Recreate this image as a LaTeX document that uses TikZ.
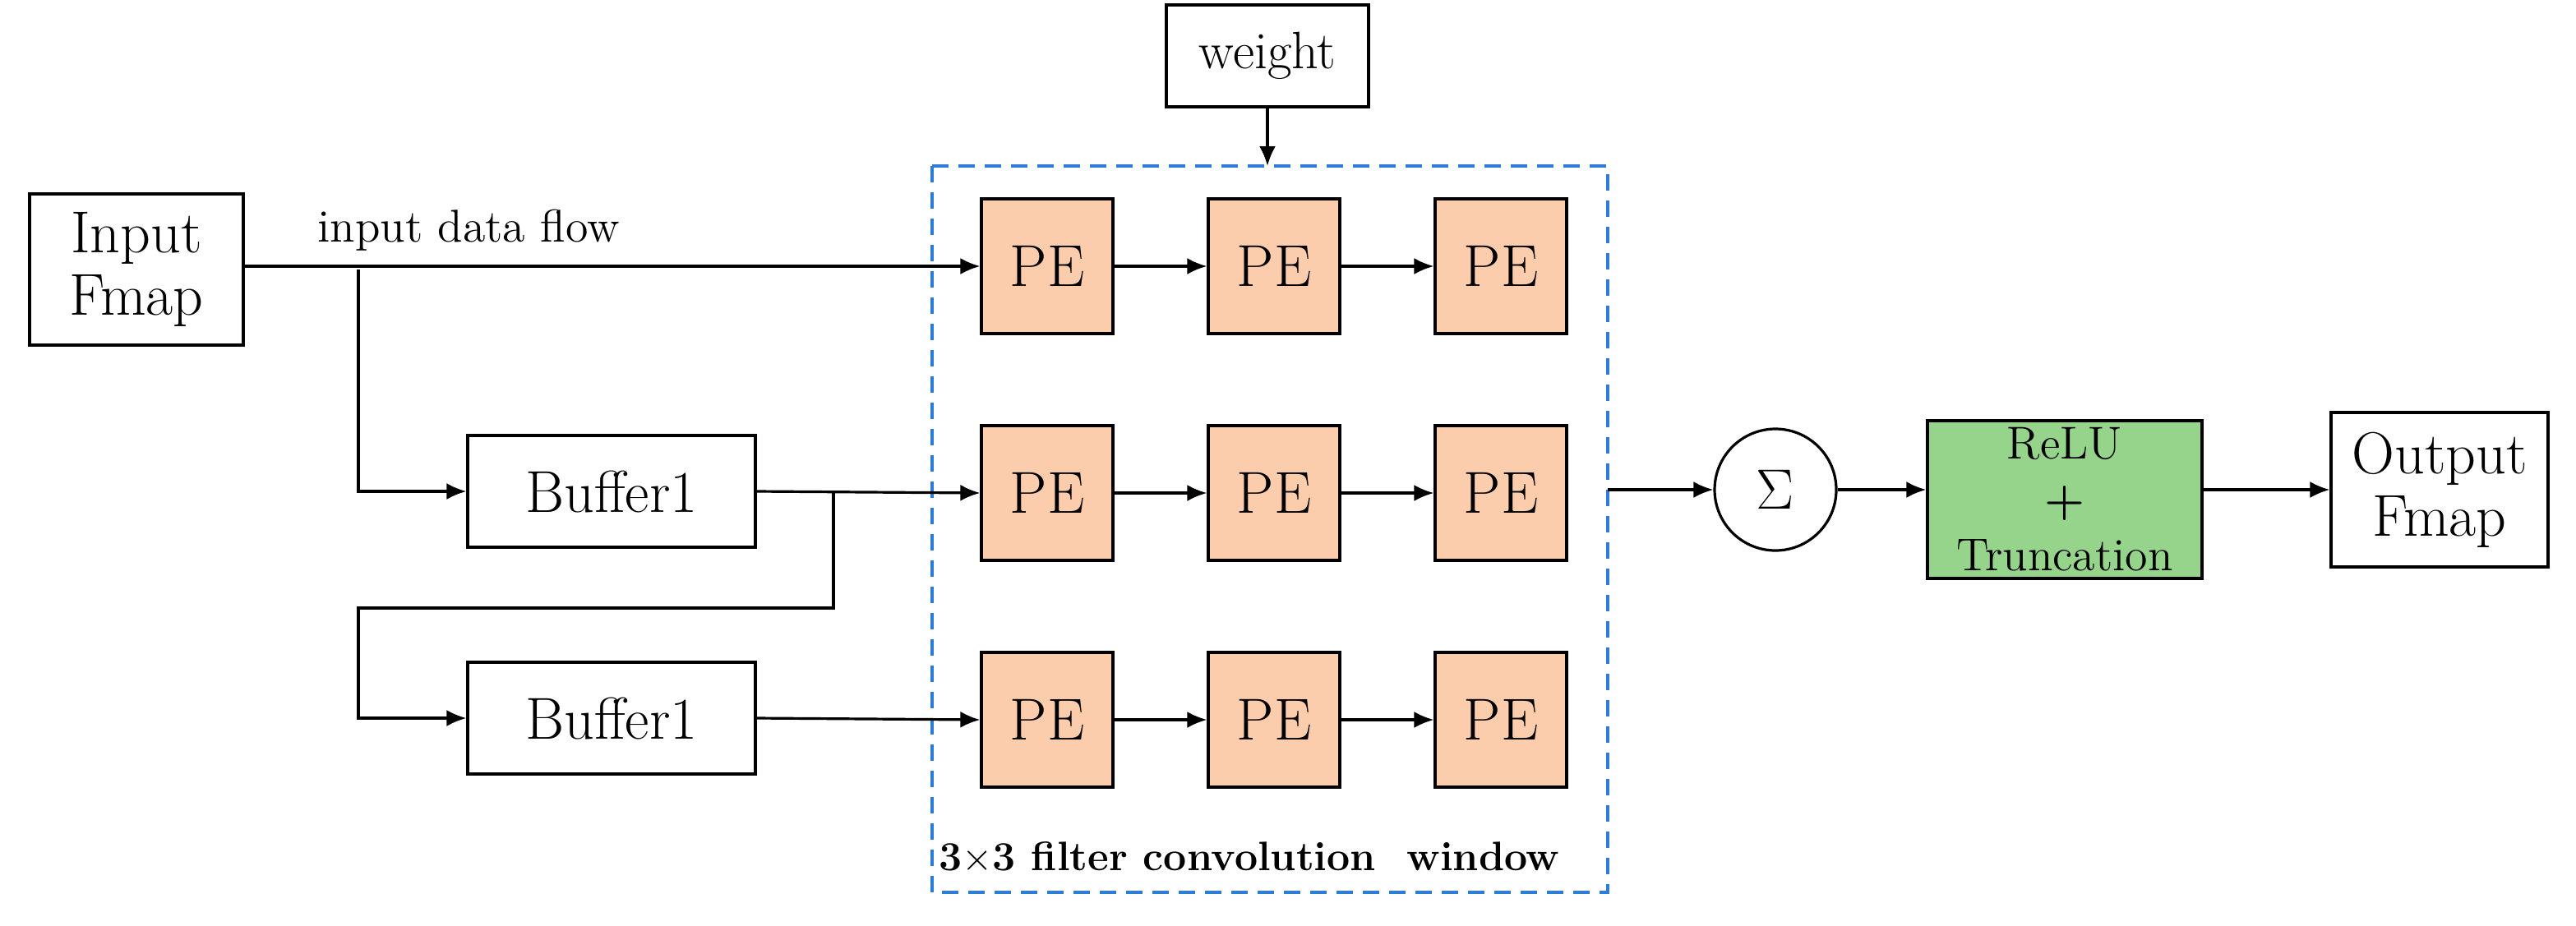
\documentclass[tikz,border=0pt]{standalone}
\usepackage{amsmath}
\usetikzlibrary{arrows.meta}
\definecolor{peorange}{RGB}{252,205,172}
\definecolor{relugreen}{RGB}{150,212,140}
\definecolor{winblue}{RGB}{45,125,215}
\begin{document}
\begin{tikzpicture}[
    x=0.5pt, y=-0.5pt,
    every node/.style={inner sep=0pt, font=\fontsize{18}{21}\selectfont},
    blk/.style={draw, line width=0.8pt, align=center},
    pe/.style={blk, fill=peorange, minimum width=40pt, minimum height=41pt},
    flow/.style={draw, line width=0.8pt, -{Latex[length=6pt,width=5pt]}}
]
\useasboundingbox (0,0) rectangle (1567,563);
% window
\draw[winblue, dashed, line width=0.8pt, dash pattern=on 5pt off 3pt] (567,101) rectangle (978,543);
\node[font=\fontsize{12.5}{14}\selectfont\bfseries] (winlabel) at (760,522) {3$\times$3 filter convolution\ \ window};
% PE array
\foreach \r/\yy in {1/162,2/300,3/438}
  \foreach \c/\xx in {1/637,2/775,3/913}
    \node[pe] (pe\r\c) at (\xx,\yy) {PE};
\foreach \r in {1,2,3}{
  \draw[flow] (pe\r1) -- (pe\r2);
  \draw[flow] (pe\r2) -- (pe\r3);
}
% inputs
\node[blk, minimum width=65pt, minimum height=46pt] (infmap) at (83,164) {Input\\[-2pt]Fmap};
\node[font=\fontsize{14}{16}\selectfont] (flowlabel) at (285,140) {input data flow};
\node[blk, minimum width=87.5pt, minimum height=34pt] (buf1) at (372,299) {Buffer1};
\node[blk, minimum width=87.5pt, minimum height=34pt] (buf2) at (372,437) {Buffer1};
\node[blk, font=\fontsize{16}{18}\selectfont, minimum width=61.5pt, minimum height=31pt] (weight) at (771,34) {weight};
\coordinate (wtop) at (771,101);
\coordinate (split1) at (218,164);
\coordinate (split2) at (507,299);
\draw[flow] (infmap.east |- pe11) -- (pe11.west);
\draw[flow] (split1) |- (buf1.west);
\draw[flow] (buf1.east) -- (pe21.west);
\draw[flow] (split2) -- (507,370) -| (218,437) -- (buf2.west);
\draw[flow] (buf2.east) -- (pe31.west);
\draw[flow] (weight) -- (wtop);
% output side
\coordinate (winout) at (978,298);
\node[draw, circle, line width=0.8pt, minimum size=37pt, font=\fontsize{18}{20}\selectfont] (sum) at (1080,298) {$\Sigma$};
\node[blk, fill=relugreen, minimum width=83.5pt, minimum height=48pt, font=\fontsize{14}{17}\selectfont] (relu) at (1256,304) {ReLU\\\textbf{+}\\Truncation};
\node[blk, minimum width=66pt, minimum height=47pt] (outfmap) at (1484,298) {Output\\[-2pt]Fmap};
\draw[flow] (winout) -- (sum);
\draw[flow] (sum) -- (sum -| relu.west);
\draw[flow] (relu.east |- outfmap) -- (outfmap);
\end{tikzpicture}
\end{document}
